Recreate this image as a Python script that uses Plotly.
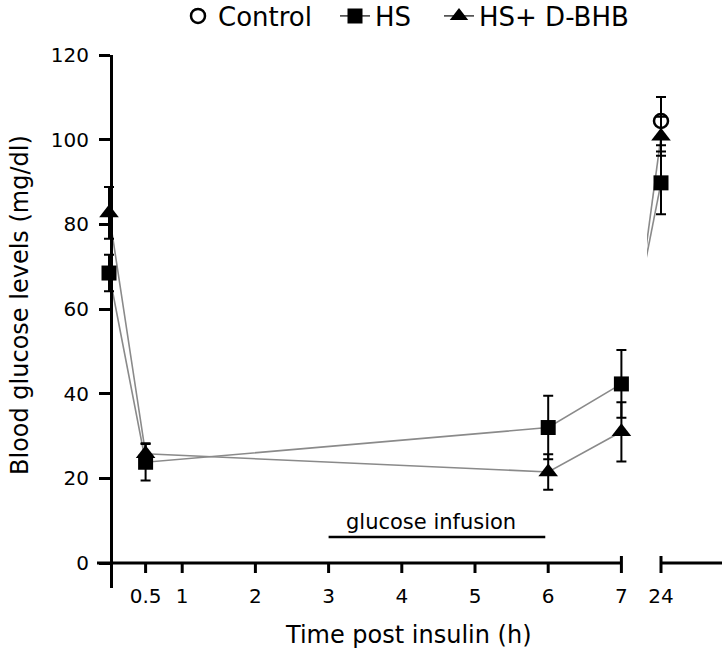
import plotly.graph_objects as go

# ---------------- data ----------------
time_h = [0, 0.5, 6, 7, 24]
hs = [68.5, 23.8, 32.0, 42.3, 89.8]
hs_err = [4.3, 4.3, 7.5, 8.0, 7.4]
bhb = [82.7, 25.8, 21.5, 31.0, 100.8]
bhb_err = [6.1, 2.5, 4.2, 7.0, 4.6]
control_time = [24]
control = [104.4]
control_err = [5.7]

x_ticks = [0.5, 1, 2, 3, 4, 5, 6, 7]
x_ticklabels = ["0.5", "1", "2", "3", "4", "5", "6", "7"]
late_ticks = [24]
late_ticklabels = ["24"]
y_ticks = [0, 20, 40, 60, 80, 100, 120]
infusion_window = [3, 6]

# ---------------- layout geometry ----------------
W, H = 722, 651
ML, MR, MT, MB = 97, 0, 55, 63
PW, PH = W - ML - MR, H - MT - MB
X0_PX = 109.0          # pixel of t = 0
PX_PER_H = 73.2        # pixels per hour (first segment)
SEG2_PX = 647.0        # left edge of the second (24 h) panel
T24_PX = 661.0         # pixel where the 24 h point sits
Y_RANGE = [-5.906, 120]
FONT = "DejaVu Sans"


def px_to_u(px):
    return (px - X0_PX) / PX_PER_H


def px_to_paper_x(px):
    return (px - ML) / PW


def px_to_paper_y(py):
    return (H - MB - py) / PH


def tpos(t):
    # broken axis: hours up to 7 are linear, 24 h sits just right of the break
    return t if t <= 7 else px_to_u(T24_PX)


LINE_C = "#8a8a8a"
series = [
    dict(name="HS", y=hs, e=hs_err, sym="square", size=15, leg="legend2"),
    dict(name="HS+ D-BHB", y=bhb, e=bhb_err, sym="triangle-up", size=17, leg="legend3"),
]

fig = go.Figure()

# connecting lines first
for s in series:
    early = [i for i, t in enumerate(time_h) if t <= 7]
    late = [i for i, t in enumerate(time_h) if t >= 7]
    fig.add_trace(go.Scatter(
        x=[tpos(time_h[i]) for i in early], y=[s["y"][i] for i in early],
        mode="lines", line=dict(color=LINE_C, width=1.6),
        xaxis="x", yaxis="y", showlegend=False, hoverinfo="skip"))
    fig.add_trace(go.Scatter(
        x=[tpos(time_h[i]) for i in late], y=[s["y"][i] for i in late],
        mode="lines", line=dict(color=LINE_C, width=1.6),
        xaxis="x2", yaxis="y", showlegend=False, hoverinfo="skip"))

# markers with error bars
for s in series:
    early = [i for i, t in enumerate(time_h) if t <= 7]
    late = [i for i, t in enumerate(time_h) if t > 7]
    for idx, ax in ((early, "x"), (late, "x2")):
        fig.add_trace(go.Scatter(
            x=[tpos(time_h[i]) for i in idx], y=[s["y"][i] for i in idx],
            mode="markers",
            marker=dict(symbol=s["sym"], size=s["size"], color="black",
                        line=dict(width=0)),
            error_y=dict(type="data", array=[s["e"][i] for i in idx],
                         color="black", thickness=2, width=5),
            xaxis=ax, yaxis="y", showlegend=False, cliponaxis=False))

fig.add_trace(go.Scatter(
    x=[tpos(t) for t in control_time], y=control, mode="markers",
    marker=dict(symbol="circle-open", size=14, color="black", line=dict(width=2.5)),
    error_y=dict(type="data", array=control_err, color="black", thickness=2, width=5),
    xaxis="x2", yaxis="y", showlegend=False, cliponaxis=False))

# legend entries
fig.add_trace(go.Scatter(
    x=[None], y=[None], mode="markers", name="Control",
    marker=dict(symbol="circle-open", size=14, color="black", line=dict(width=2.5)),
    legend="legend"))
for s in series:
    fig.add_trace(go.Scatter(
        x=[None], y=[None], mode="lines+markers", name=s["name"],
        line=dict(color="#555555", width=1.6),
        marker=dict(symbol=s["sym"], size=s["size"], color="black"),
        legend=s["leg"]))

# ---------------- axes drawn as shapes (broken x axis) ----------------
shapes = []
AX_W = 3
shapes.append(dict(type="line", xref="x", yref="y", x0=px_to_u(ML), x1=7, y0=0, y1=0,
                   line=dict(color="black", width=AX_W)))
for t in x_ticks[:-1]:
    shapes.append(dict(type="line", xref="x", yref="y", ysizemode="pixel", yanchor=0,
                       x0=t, x1=t, y0=-10, y1=0, line=dict(color="black", width=AX_W)))
shapes.append(dict(type="line", xref="x", yref="y", ysizemode="pixel", yanchor=0,
                   x0=7, x1=7, y0=-10, y1=7, line=dict(color="black", width=AX_W)))
u24 = tpos(late_ticks[0])
shapes.append(dict(type="line", xref="x2", yref="y", x0=u24, x1=px_to_u(W), y0=0, y1=0,
                   line=dict(color="black", width=AX_W)))
shapes.append(dict(type="line", xref="x2", yref="y", ysizemode="pixel", yanchor=0,
                   x0=u24, x1=u24, y0=-10, y1=7, line=dict(color="black", width=AX_W)))
# glucose infusion bar
shapes.append(dict(type="line", xref="x", yref="y", ysizemode="pixel", yanchor=0,
                   x0=infusion_window[0], x1=infusion_window[1] - 0.04, y0=26, y1=26,
                   line=dict(color="black", width=2.5)))

annotations = [
    dict(text="glucose infusion", xref="x", yref="y",
         x=sum(infusion_window) / 2, y=0, xshift=-7, yshift=41,
         showarrow=False, xanchor="center", yanchor="middle",
         font=dict(family=FONT, size=21, color="black")),
    dict(text="Time post insulin (h)", xref="paper", yref="paper",
         x=px_to_paper_x(408), y=px_to_paper_y(635), showarrow=False,
         xanchor="center", yanchor="middle",
         font=dict(family=FONT, size=24, color="black")),
    dict(text="Blood glucose levels (mg/dl)", xref="paper", yref="paper",
         x=px_to_paper_x(20), y=px_to_paper_y(305), showarrow=False, textangle=-90,
         xanchor="center", yanchor="middle",
         font=dict(family=FONT, size=24, color="black")),
]

split = px_to_paper_x(SEG2_PX)
leg_common = dict(orientation="h", bgcolor="rgba(0,0,0,0)", borderwidth=0,
                  xref="container", yref="container",
                  xanchor="left", yanchor="middle", y=1 - 16 / H,
                  font=dict(family=FONT, size=26, color="black"))

fig.update_layout(
    template="none",
    width=W, height=H,
    margin=dict(l=ML, r=MR, t=MT, b=MB, pad=0, autoexpand=False),
    paper_bgcolor="white", plot_bgcolor="white",
    font=dict(family=FONT, color="black"),
    showlegend=True,
    legend=dict(x=178 / W, **leg_common),
    legend2=dict(x=335 / W, **leg_common),
    legend3=dict(x=439 / W, **leg_common),
    xaxis=dict(domain=[0, split], range=[px_to_u(ML), px_to_u(SEG2_PX)],
               tickvals=x_ticks, ticktext=x_ticklabels, ticks="",
               showline=False, showgrid=False, zeroline=False, anchor="y",
               automargin=False, ticklabelstandoff=-6,
               tickfont=dict(family=FONT, size=20, color="black")),
    xaxis2=dict(domain=[split, 1], range=[px_to_u(SEG2_PX), px_to_u(W)],
                tickvals=[tpos(t) for t in late_ticks], ticktext=late_ticklabels,
                ticks="", showline=False, showgrid=False, zeroline=False, anchor="y",
                automargin=False, ticklabelstandoff=-6,
                tickfont=dict(family=FONT, size=20, color="black")),
    yaxis=dict(range=Y_RANGE, tickvals=y_ticks, ticks="outside", ticklen=11,
               tickwidth=AX_W, tickcolor="black", showline=True, linewidth=AX_W,
               linecolor="black", showgrid=False, zeroline=False,
               anchor="free", position=px_to_paper_x(111), automargin=False,
               ticklabelstandoff=6,
               tickfont=dict(family=FONT, size=20, color="black")),
    shapes=shapes,
    annotations=annotations,
)

fig.write_html("out.html",
               config={"displayModeBar": False},
               post_script="document.body.style.margin='0px';"
                           "document.body.style.overflow='hidden';")
